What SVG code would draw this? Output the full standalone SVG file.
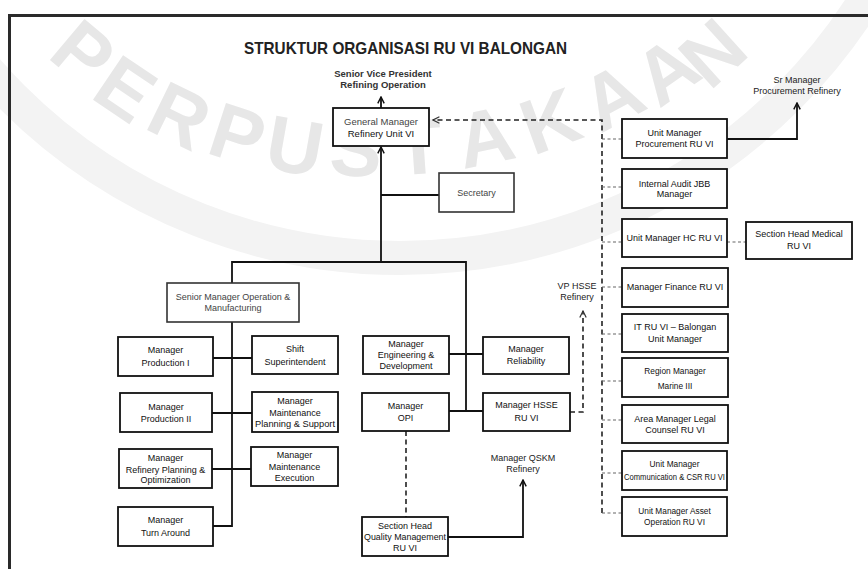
<svg xmlns="http://www.w3.org/2000/svg" width="868" height="569" viewBox="0 0 868 569">
<defs>
<style>
.bg{fill:#ffffff}
.wm{font-family:"Liberation Sans",Arial,sans-serif;font-weight:bold;font-size:78px;fill:#e7e7e7;text-anchor:middle}
.band{fill:none;stroke:#f3f3f3;stroke-width:34}
.frame{fill:none;stroke:#2a2a2a;stroke-width:3}
.box{fill:#fff;stroke:#111;stroke-width:1.8}
.gbox{fill:#fff;stroke:#333;stroke-width:1.6}
.t{font-family:"Liberation Sans",Arial,sans-serif;font-size:9px;text-anchor:middle;fill:#111}
.tg{fill:#444}
.ts{font-size:8.3px}
.title{font-family:"Liberation Sans",Arial,sans-serif;font-weight:bold;font-size:17px;fill:#222;text-anchor:middle}
.lb{font-family:"Liberation Sans",Arial,sans-serif;font-weight:bold;font-size:9.5px;fill:#333;text-anchor:middle}
.lbn{font-family:"Liberation Sans",Arial,sans-serif;font-size:9px;fill:#222;text-anchor:middle}
.ln{fill:none;stroke:#111;stroke-width:1.8}
.dk{fill:none;stroke:#222;stroke-width:1.6;stroke-dasharray:5 3.5}
.dg{fill:none;stroke:#666;stroke-width:1.2;stroke-dasharray:3 2.5}
</style>
<marker id="ah" viewBox="0 0 10 10" refX="9" refY="5" markerWidth="8" markerHeight="8" markerUnits="userSpaceOnUse" orient="auto">
<path d="M1,1 L9,5 L1,9" fill="none" stroke="#111" stroke-width="1.8"/>
</marker>
<marker id="ahd" viewBox="0 0 10 10" refX="9" refY="5" markerWidth="8" markerHeight="8" markerUnits="userSpaceOnUse" orient="auto">
<path d="M1,1 L9,5 L1,9" fill="none" stroke="#333" stroke-width="1.5"/>
</marker>
</defs>
<rect class="bg" x="0" y="0" width="868" height="569"/>

<g id="watermark">
<circle class="band" cx="400" cy="-290" r="548"/>
<g transform="translate(84,52) rotate(40)"><text class="wm" x="0" y="28">P</text></g>
<g transform="translate(126,88) rotate(34)"><text class="wm" x="0" y="28">E</text></g>
<g transform="translate(180,115) rotate(26)"><text class="wm" x="0" y="28">R</text></g>
<g transform="translate(238,134) rotate(18)"><text class="wm" x="0" y="28">P</text></g>
<g transform="translate(295,145) rotate(10)"><text class="wm" x="0" y="28">U</text></g>
<g transform="translate(356,148) rotate(3)"><text class="wm" x="0" y="28">S</text></g>
<g transform="translate(418,146) rotate(-4)"><text class="wm" x="0" y="28">T</text></g>
<g transform="translate(485,136) rotate(-12)"><text class="wm" x="0" y="28">A</text></g>
<g transform="translate(550,120) rotate(-20)"><text class="wm" x="0" y="28">K</text></g>
<g transform="translate(612,96) rotate(-28)"><text class="wm" x="0" y="28">A</text></g>
<g transform="translate(666,70) rotate(-35)"><text class="wm" x="0" y="28">A</text></g>
<g transform="translate(712,52) rotate(-42)"><text class="wm" x="0" y="28">N</text></g>
</g>

<path class="frame" d="M9.5 569 V15.5 H868"/>

<text class="title" x="405.5" y="54" textLength="323" lengthAdjust="spacingAndGlyphs">STRUKTUR ORGANISASI RU VI BALONGAN</text>

<g id="connectors">
<path class="ln" d="M381 108 V97" marker-end="url(#ah)"/>
<path class="ln" d="M381 262 V147" marker-end="url(#ah)"/>
<path class="ln" d="M381 195 H439"/>
<path class="ln" d="M232 283 V262 H466 V412"/>
<path class="ln" d="M232 322 V526 H213"/>
<path class="ln" d="M213 358 H252"/>
<path class="ln" d="M212 413 H252"/>
<path class="ln" d="M212 469 H251"/>
<path class="ln" d="M449 354 H483"/>
<path class="ln" d="M449 411 H483"/>
<path class="dk" d="M406 431 V517"/>
<path class="ln" d="M448 537 H523 V480" marker-end="url(#ah)"/>
<path class="dk" d="M570 412 H583 V311" marker-end="url(#ahd)"/>
<path class="dk" d="M602 513 V120 H433" marker-end="url(#ahd)"/>
<path class="dg" d="M602 139 H622"/>
<path class="dg" d="M602 187 H622"/>
<path class="dg" d="M602 242 H622"/>
<path class="dg" d="M602 287 H622"/>
<path class="dg" d="M602 334 H622"/>
<path class="dg" d="M602 381 H622"/>
<path class="dg" d="M602 420 H622"/>
<path class="dg" d="M602 473 H622"/>
<path class="dg" d="M602 513 H622"/>
<path class="dg" d="M727 242 H746"/>
<path class="ln" d="M727 139 H797 V103" marker-end="url(#ah)"/>
</g>

<g id="svp"><text class="lb" x="383" y="77">Senior Vice President</text><text class="lb" x="383" y="88">Refining Operation</text></g>
<g id="gm"><rect class="box" x="333" y="108" width="96" height="38"/><text class="t tg" x="381" y="125" style="font-size:9.5px">General Manager</text><text class="t" x="381" y="137" style="font-size:9.5px">Refinery Unit VI</text></g>
<g id="secretary"><rect class="gbox" x="439" y="173" width="75" height="39"/><text class="t tg" x="476.5" y="196">Secretary</text></g>
<g id="smom"><rect class="gbox" x="167" y="283" width="132" height="39"/><text class="t tg" x="233" y="300">Senior Manager Operation &amp;</text><text class="t tg" x="233" y="311">Manufacturing</text></g>
<g id="prod1"><rect class="box" x="118" y="337" width="95" height="39"/><text class="t" x="165.5" y="353">Manager</text><text class="t" x="165.5" y="366">Production I</text></g>
<g id="shift"><rect class="box" x="252" y="336" width="86" height="38"/><text class="t" x="295" y="352">Shift</text><text class="t" x="295" y="365">Superintendent</text></g>
<g id="prod2"><rect class="box" x="120" y="393" width="92" height="39"/><text class="t" x="166" y="410">Manager</text><text class="t" x="166" y="422">Production II</text></g>
<g id="mps"><rect class="box" x="252" y="392" width="86" height="40"/><text class="t" x="295" y="404">Manager</text><text class="t" x="295" y="416">Maintenance</text><text class="t" x="295" y="427" textLength="80" lengthAdjust="spacingAndGlyphs">Planning &amp; Support</text></g>
<g id="rpo"><rect class="box" x="119" y="449" width="93" height="39"/><text class="t" x="165.5" y="461">Manager</text><text class="t" x="165.5" y="473">Refinery  Planning &amp;</text><text class="t" x="165.5" y="483">Optimization</text></g>
<g id="mex"><rect class="box" x="251" y="447" width="87" height="39"/><text class="t" x="294.5" y="458">Manager</text><text class="t" x="294.5" y="470">Maintenance</text><text class="t" x="294.5" y="481">Execution</text></g>
<g id="turn"><rect class="box" x="118" y="507" width="95" height="39"/><text class="t" x="165.5" y="523">Manager</text><text class="t" x="165.5" y="536">Turn Around</text></g>
<g id="eng"><rect class="box" x="363" y="336" width="86" height="38"/><text class="t" x="406" y="347">Manager</text><text class="t" x="406" y="358">Engineering &amp;</text><text class="t" x="406" y="369">Development</text></g>
<g id="rel"><rect class="box" x="483" y="337" width="86" height="37"/><text class="t" x="526" y="352">Manager</text><text class="t" x="526" y="364">Reliability</text></g>
<g id="opi"><rect class="box" x="362" y="393" width="87" height="38"/><text class="t" x="405.5" y="409">Manager</text><text class="t" x="405.5" y="421">OPI</text></g>
<g id="hsse"><rect class="box" x="483" y="393" width="87" height="38"/><text class="t" x="526.5" y="408">Manager HSSE</text><text class="t" x="526.5" y="421">RU VI</text></g>
<g id="shqm"><rect class="box" x="362" y="517" width="86" height="39"/><text class="t" x="405" y="529">Section Head</text><text class="t" x="405" y="540" textLength="82" lengthAdjust="spacingAndGlyphs">Quality Management</text><text class="t" x="405" y="551">RU VI</text></g>
<g id="qskm"><text class="lbn" x="523" y="461">Manager QSKM</text><text class="lbn" x="523" y="472">Refinery</text></g>
<g id="vphsse"><text class="lbn" x="577" y="289">VP HSSE</text><text class="lbn" x="577" y="300">Refinery</text></g>
<g id="srproc"><text class="lbn" x="797" y="83">Sr Manager</text><text class="lbn" x="797" y="94">Procurement Refinery</text></g>
<g id="proc"><rect class="box" x="622" y="119" width="105" height="39"/><text class="t" x="674.5" y="136">Unit Manager</text><text class="t" x="674.5" y="147">Procurement RU VI</text></g>
<g id="audit"><rect class="box" x="622" y="169" width="105" height="39"/><text class="t" x="674.5" y="187">Internal Audit JBB</text><text class="t" x="674.5" y="197">Manager</text></g>
<g id="hc"><rect class="box" x="622" y="219" width="105" height="38"/><text class="t" x="674.5" y="241">Unit Manager HC RU VI</text></g>
<g id="medical"><rect class="box" x="746" y="222" width="106" height="37"/><text class="t" x="799" y="237">Section Head Medical</text><text class="t" x="799" y="249">RU VI</text></g>
<g id="finance"><rect class="box" x="622" y="268" width="106" height="39"/><text class="t" x="675" y="290">Manager Finance RU VI</text></g>
<g id="it"><rect class="box" x="622" y="314" width="106" height="38"/><text class="t" x="675" y="330">IT RU VI – Balongan</text><text class="t" x="675" y="342">Unit Manager</text></g>
<g id="marine"><rect class="box" x="622" y="358" width="106" height="39"/><text class="t ts" x="675" y="374">Region Manager</text><text class="t ts" x="675" y="389">Marine III</text></g>
<g id="legal"><rect class="box" x="622" y="405" width="106" height="38"/><text class="t" x="675" y="422">Area Manager Legal</text><text class="t" x="675" y="433">Counsel RU VI</text></g>
<g id="comm"><rect class="box" x="622" y="451" width="105" height="39"/><text class="t ts" x="674.5" y="467">Unit Manager</text><text class="t ts" x="674.5" y="480" textLength="101" lengthAdjust="spacingAndGlyphs">Communication &amp; CSR RU VI</text></g>
<g id="asset"><rect class="box" x="622" y="497" width="105" height="39"/><text class="t ts" x="674.5" y="514">Unit Manager Asset</text><text class="t ts" x="674.5" y="525">Operation RU VI</text></g>
</svg>
